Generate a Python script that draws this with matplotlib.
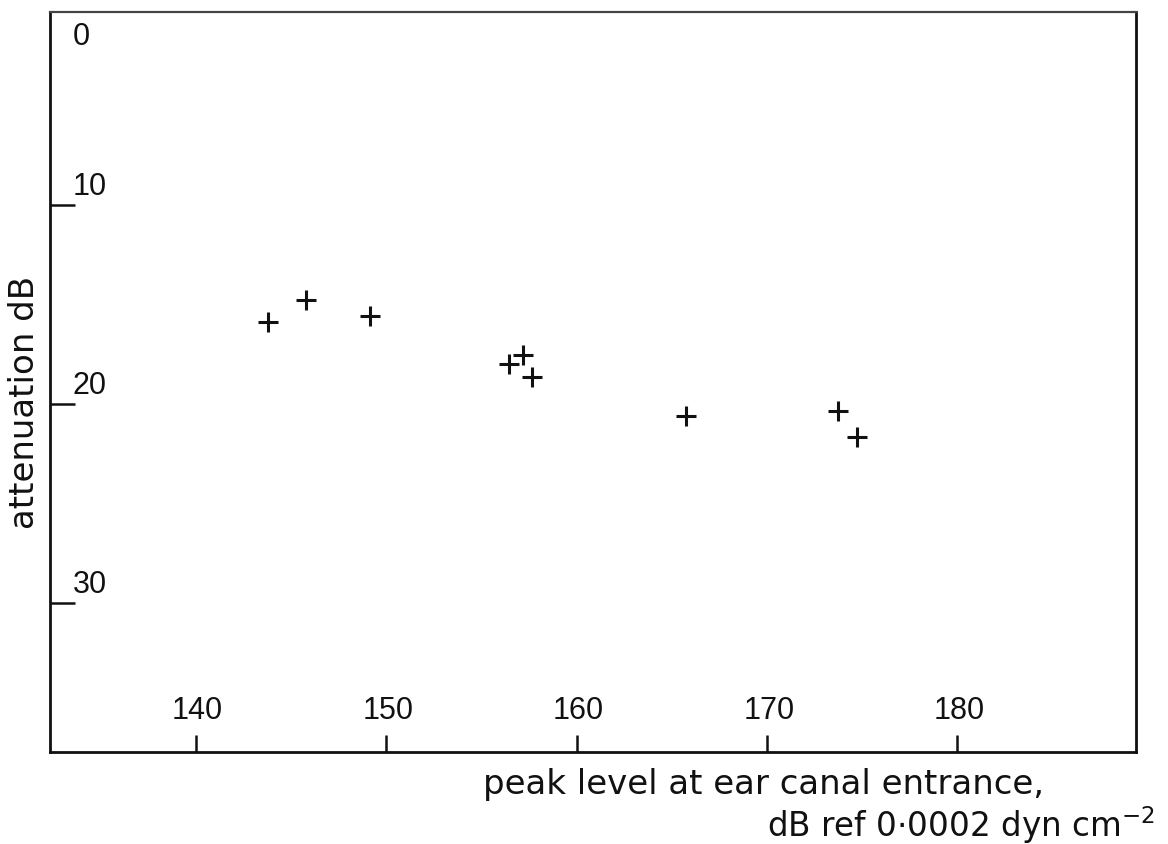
import matplotlib
matplotlib.use("Agg")
import matplotlib.pyplot as plt

# data
peak_level = [143.8, 145.8, 149.15, 156.45, 157.2, 157.65, 165.75, 173.75, 174.75]
attenuation = [15.9, 14.8, 15.6, 18.0, 17.55, 18.65, 20.6, 20.35, 21.65]

x_ticks = [140, 150, 160, 170, 180]
y_ticks = [0, 10, 20, 30]

ink = '#111111'

fig = plt.figure(figsize=(11.68, 8.45), dpi=100)
ax = fig.add_axes([0.0428, 0.1089, 0.9294, 0.8757])

ax.plot(peak_level, attenuation, linestyle='none', marker='+',
        markersize=14, markeredgewidth=2.2, color=ink)

ax.set_xlim(132.35, 189.35)
ax.set_ylim(37.5, 0.3)   # inverted: 0 at top

for side in ['left', 'bottom', 'right', 'top']:
    ax.spines[side].set_linewidth(2.0)
    ax.spines[side].set_color(ink)
ax.spines['top'].set_color('#444444')
ax.spines['top'].set_linewidth(1.6)

# ticks point inwards, labels drawn inside the frame
ax.set_xticks(x_ticks)
ax.set_yticks([t for t in y_ticks if t > 0])
ax.tick_params(axis='x', direction='in', length=12, width=1.8, color=ink,
               labelbottom=False)
ax.tick_params(axis='y', direction='in', length=18, width=1.8, color=ink,
               labelleft=False)

tick_font = dict(family='Liberation Sans', fontsize=22, color=ink)
for t in x_ticks:
    ax.annotate(str(t), xy=(t, 0), xycoords=('data', 'axes fraction'),
                xytext=(2, 42), textcoords='offset pixels',
                ha='center', va='center', **tick_font)
for t in y_ticks:
    dy = -30 if t == 0 else 19
    ax.annotate(str(t), xy=(0, t), xycoords=('axes fraction', 'data'),
                xytext=(23, dy), textcoords='offset pixels',
                ha='left', va='center', **tick_font)

label_font = dict(family='DejaVu Sans', fontsize=24.5, color=ink)
fig.text(25 / 1168, 1 - 402 / 845, 'attenuation dB', rotation=90,
         ha='center', va='center', **label_font)
fig.text(483 / 1168, 1 - 785 / 845, 'peak level at ear canal entrance,',
         ha='left', va='center', **label_font)
fig.text(1155 / 1168, 1 - 825 / 845, r'dB ref 0$\cdot$0002 dyn cm$^{-2}$',
         ha='right', va='center', family='DejaVu Sans', fontsize=23.5,
         color=ink)

fig.savefig('out.png', dpi=100, facecolor='white')
